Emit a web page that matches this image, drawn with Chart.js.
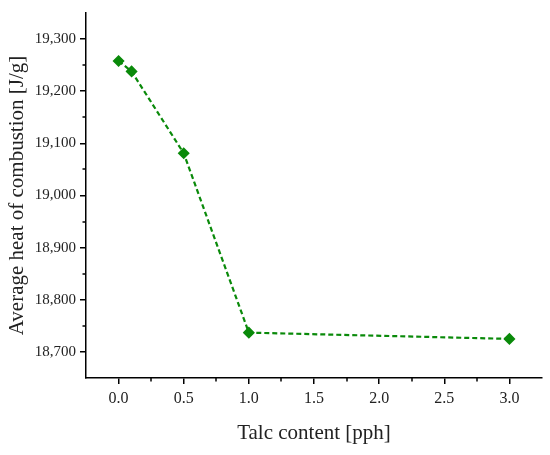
<!DOCTYPE html>
<html><head><meta charset="utf-8">
<script src="https://cdn.jsdelivr.net/npm/chart.js@4"></script>
<style>html,body{margin:0;padding:0;background:#fff}#wrap{width:550px;height:455px}</style>
</head><body><div id="wrap"><canvas id="c" width="550" height="455"></canvas></div>
<script>
const talcContent = [0.0, 0.1, 0.5, 1.0, 3.0];
const heatOfCombustion = [19258, 19238, 19081, 18737, 18725];
const xTicks = [0.0, 0.5, 1.0, 1.5, 2.0, 2.5, 3.0];
const yTicks = [18700, 18800, 18900, 19000, 19100, 19200, 19300];
const xMinor = [0.25, 0.75, 1.25, 1.75, 2.25, 2.75];
const yMinor = [18750, 18850, 18950, 19050, 19150, 19250];

const FONT = "'Liberation Serif', 'DejaVu Serif', serif";
const minorTicks = {
  id: 'minorTicks',
  afterDraw(chart) {
    const ctx = chart.ctx, xs = chart.scales.x, ys = chart.scales.y;
    ctx.save();
    ctx.strokeStyle = '#000'; ctx.lineWidth = 1.5;
    xMinor.forEach(v => { const p = Math.round(xs.getPixelForValue(v)); ctx.beginPath(); ctx.moveTo(p, xs.top); ctx.lineTo(p, xs.top + 3.5); ctx.stroke(); });
    yMinor.forEach(v => { const p = Math.round(ys.getPixelForValue(v)); ctx.beginPath(); ctx.moveTo(ys.right, p); ctx.lineTo(ys.right - 3.5, p); ctx.stroke(); });
    ctx.restore();
  }
};

new Chart(document.getElementById('c'), {
  type: 'line',
  data: { datasets: [{
    data: talcContent.map((x, i) => ({x, y: heatOfCombustion[i]})),
    borderColor: '#0a8a0a', backgroundColor: '#0a8a0a', borderWidth: 2.2,
    borderDash: [5, 3], pointStyle: 'rectRot', pointRadius: 4.5, pointHoverRadius: 4.5,
    tension: 0
  }]},
  options: {
    responsive: false, animation: false,
    layout: { padding: { top: 10, right: 8, left: 0, bottom: 0 } },
    plugins: { legend: { display: false }, tooltip: { enabled: false } },
    scales: {
      x: {
        type: 'linear', min: -0.25, max: 3.25,
        afterBuildTicks: s => { s.ticks = xTicks.map(v => ({value: v})); },
        afterFit: s => { s.height = 77; },
        border: { color: '#000', width: 1.5 },
        grid: { drawOnChartArea: false, tickLength: 6, color: '#000', lineWidth: 1.5 },
        ticks: { color: '#222', font: { family: FONT, size: 16 }, padding: 5, callback: v => v.toFixed(1) },
        title: { display: true, text: 'Talc content [pph]', color: '#222', font: { family: FONT, size: 21 }, padding: { top: 0, bottom: 9 } }
      },
      y: {
        type: 'linear', min: 18650, max: 19350,
        afterBuildTicks: s => { s.ticks = yTicks.map(v => ({value: v})); },
        afterFit: s => { s.width = 86; },
        border: { color: '#000', width: 1.5 },
        grid: { drawOnChartArea: false, tickLength: 6, color: '#000', lineWidth: 1.5 },
        ticks: { color: '#222', font: { family: FONT, size: 15 }, padding: 4, callback: v => v.toLocaleString('en-US') },
        title: { display: true, text: 'Average heat of combustion [J/g]', color: '#222', font: { family: FONT, size: 21 }, padding: { top: 5, bottom: 0 } }
      }
    }
  },
  plugins: [minorTicks]
});
</script></body></html>
